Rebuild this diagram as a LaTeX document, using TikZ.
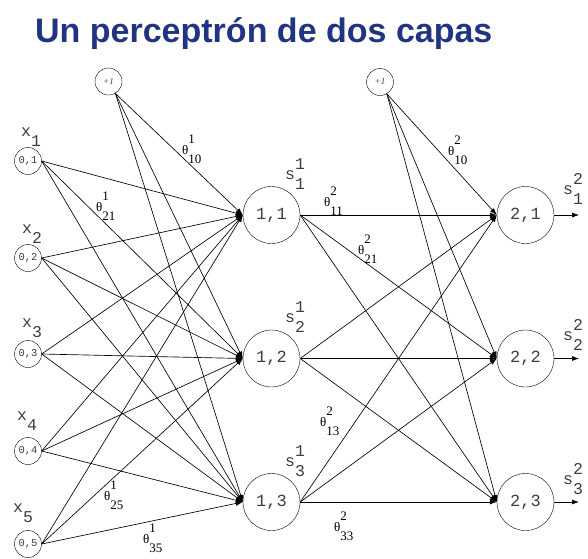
\documentclass[tikz,border=0pt]{standalone}
\usepackage{fontspec}
\setmainfont{Liberation Serif}
\newfontfamily\monofont{Liberation Mono}
\newfontfamily\titlefont{Liberation Sans}
\usepackage{tikz}
\usetikzlibrary{positioning,arrows.meta}

\definecolor{titleblue}{RGB}{33,52,130}
\definecolor{labelgray}{RGB}{60,60,70}

% weight and output labels: letter with index above and below
\newcommand{\wlab}[3]{#1\rlap{\raisebox{0.8em}{#2}}\raisebox{-0.7em}{#3}}
\newcommand{\slab}[3]{#1\rlap{\raisebox{0.55em}{#2}}\raisebox{-0.62em}{#3}}

\begin{document}
\begin{tikzpicture}[x=1pt,y=-1pt,
    innode/.style={circle,draw,inner sep=0pt,minimum size=27pt,font=\monofont\fontsize{10.5}{10.5}\selectfont,text=labelgray},
    biasnode/.style={circle,draw,inner sep=0pt,minimum size=27pt,font=\itshape\fontsize{9}{9}\selectfont,text=labelgray},
    neuron/.style={circle,draw,inner sep=0pt,minimum size=57pt,font=\monofont\fontsize{17}{17}\selectfont,text=labelgray},
    wlabel/.style={anchor=base west,inner sep=0pt,font=\fontsize{13}{13}\selectfont},
    slabel/.style={anchor=base west,inner sep=0pt,font=\monofont\fontsize{16.5}{16.5}\selectfont,text=labelgray},
    conn/.style={-{Latex[length=7pt,width=5pt]},line width=0.65pt}]
  \useasboundingbox (0,0) rectangle (588,558);

  \node[anchor=base west,inner sep=0pt,text=titleblue,font=\titlefont\bfseries\fontsize{34}{34}\selectfont](title) at (35,42) {Un perceptrón de dos capas};

  % bias units
  \node[biasnode](b1) at (108.5,81.5) {+1};
  \node[biasnode](b2) at (380,82) {+1};

  % inputs
  \node[innode](x1) at (28,161) {0,1};
  \node[innode](x2) at (28,258) {0,2};
  \node[innode](x3) at (28,354) {0,3};
  \node[innode](x4) at (28,451) {0,4};
  \node[innode](x5) at (28,544) {0,5};

  % hidden layer
  \node[neuron](h1) at (271.5,215) {1,1};
  \node[neuron](h2) at (271.5,358.5) {1,2};
  \node[neuron](h3) at (271.5,502) {1,3};

  % output layer
  \node[neuron](o1) at (525.5,215) {2,1};
  \node[neuron](o2) at (525.5,358.5) {2,2};
  \node[neuron](o3) at (525.5,502) {2,3};
  \coordinate (e1) at (579,215);
  \coordinate (e2) at (579,358.5);
  \coordinate (e3) at (579,502);

  \foreach \i in {1,...,5}
    \foreach \j in {1,2,3}
      \draw[conn] (x\i.east) -- (h\j.west);
  \foreach \j in {1,2,3} {
    \draw[conn] (b1.-60) -- (h\j.west);
    \draw[conn] (b2.-60) -- (o\j.west);
    \draw[conn] (o\j.east) -- (e\j);
    \foreach \k in {1,2,3}
      \draw[conn] (h\j.east) -- (o\k.west);
  }

  % names of the units
  \node[slabel](lx1) at (21,136) {\slab{x}{}{1}};
  \node[slabel](lx2) at (22,233) {\slab{x}{}{2}};
  \node[slabel](lx3) at (22,327) {\slab{x}{}{3}};
  \node[slabel](lx4) at (17,420) {\slab{x}{}{4}};
  \node[slabel](lx5) at (13,512) {\slab{x}{}{5}};
  \node[slabel](ls11) at (285,179) {\slab{s}{1}{1}};
  \node[slabel](ls12) at (285,322) {\slab{s}{1}{2}};
  \node[slabel](ls13) at (285,466) {\slab{s}{1}{3}};
  \node[slabel](ls21) at (563,194) {\slab{s}{2}{1}};
  \node[slabel](ls22) at (563,340) {\slab{s}{2}{2}};
  \node[slabel](ls23) at (563,484) {\slab{s}{2}{3}};

  % weights
  \node[wlabel](w110) at (182,154) {\wlab{θ}{1}{10}};
  \node[wlabel](w121) at (96,211) {\wlab{θ}{1}{21}};
  \node[wlabel](w125) at (104,500) {\wlab{θ}{1}{25}};
  \node[wlabel](w135) at (143,543) {\wlab{θ}{1}{35}};
  \node[wlabel](w211) at (324,206) {\wlab{θ}{2}{11}};
  \node[wlabel](w221) at (358,254) {\wlab{θ}{2}{21}};
  \node[wlabel](w213) at (320,426) {\wlab{θ}{2}{13}};
  \node[wlabel](w233) at (334,531) {\wlab{θ}{2}{33}};
  \node[wlabel](w210) at (448,155) {\wlab{θ}{2}{10}};
\end{tikzpicture}
\end{document}
